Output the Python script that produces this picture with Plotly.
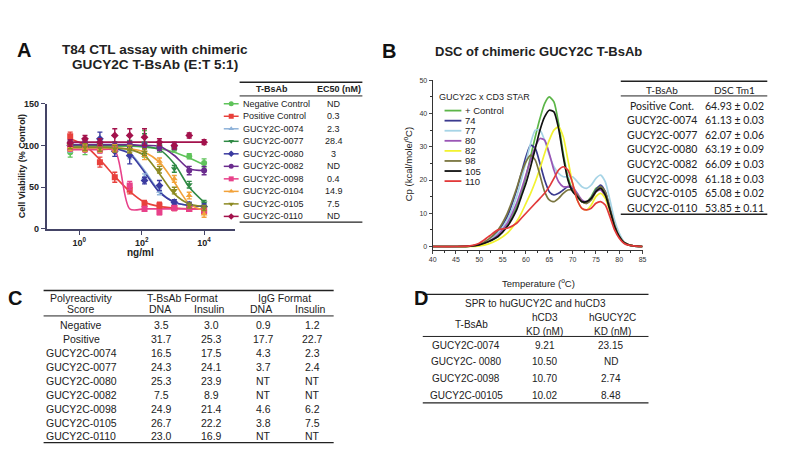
import plotly.graph_objects as go

W, H = 800, 450

# ---------------- Panel A data ----------------
conc = [0.51, 1.52, 4.57, 13.7, 41.2, 123, 370, 1111, 3333, 10000]
a_names = ["Negative Control", "Positive Control", "GUCY2C-0074", "GUCY2C-0077", "GUCY2C-0080",
           "GUCY2C-0082", "GUCY2C-0098", "GUCY2C-0104", "GUCY2C-0105", "GUCY2C-0110"]
a_ec50 = ["ND", "0.3", "2.3", "28.4", "3", "ND", "0.4", "14.9", "7.5", "ND"]

neg_mean = [92, 95, 98, 100, 100, 102, 100, 96, 87, 79]
neg_err = [6, 6, 5, 4, 6, 16, 4, 4, 3, 5]
neg_fit = [99, 99, 99, 99, 99, 98, 96, 92, 85, 77]
pos_mean = [111, 100, 80, 62, 47, 30, 28, 25, 24, 21]
pos_err = [5, 6, 6, 6, 5, 4, 4, 3, 3, 3]
pos_fit = [108, 100, 83, 63, 45, 32, 27, 25, 24, 24]
g74_mean = [96, 97, 95, 96, 88, 62, 45, 32, 28, 27]
g74_err = [4, 4, 4, 4, 4, 4, 4, 3, 3, 3]
g74_fit = [98, 98, 98, 97, 91, 70, 45, 32, 28, 27]
g77_mean = [99, 100, 101, 100, 98, 102, 96, 72, 53, 31]
g77_err = [4, 4, 4, 4, 4, 12, 4, 4, 4, 3]
g77_fit = [100, 100, 100, 100, 100, 99, 95, 78, 50, 32]
g80_mean = [100, 99, 108, 93, 88, 58, 52, 32, 29, 27]
g80_err = [5, 5, 8, 6, 10, 4, 6, 3, 3, 3]
g80_fit = [97, 97, 97, 96, 90, 68, 44, 32, 28, 27]
g82_mean = [103, 102, 101, 100, 101, 100, 98, 99, 70, 70]
g82_err = [4, 4, 4, 4, 4, 4, 4, 4, 5, 5]
g82_fit = [101, 101, 101, 101, 101, 100, 99, 88, 72, 70]
g98_mean = [97, 96, 95, 96, 52, 24, 20, 25, 24, 22]
g98_err = [4, 4, 4, 4, 5, 3, 3, 3, 3, 3]
g98_fit = [95, 95, 95, 94, 24, 24, 24, 24, 24, 24]
g104_mean = [98, 97, 96, 97, 96, 88, 81, 60, 40, 18]
g104_err = [4, 4, 4, 4, 4, 5, 4, 4, 4, 4]
g104_fit = [97, 97, 97, 97, 96, 92, 80, 56, 30, 22]
g105_mean = [100, 98, 97, 96, 95, 92, 71, 46, 28, 25]
g105_err = [4, 4, 4, 4, 4, 4, 4, 4, 3, 3]
g105_fit = [98, 98, 98, 97, 95, 88, 66, 42, 30, 27]
g110_mean = [103, 108, 104, 112, 112, 110, 104, 100, 112, 104]
g110_err = [4, 4, 4, 8, 8, 10, 4, 4, 3, 3]
g110_fit = [104, 104, 104, 104, 104, 104, 104, 104, 104, 104]

a_means = [neg_mean, pos_mean, g74_mean, g77_mean, g80_mean, g82_mean, g98_mean, g104_mean, g105_mean, g110_mean]
a_errs = [neg_err, pos_err, g74_err, g77_err, g80_err, g82_err, g98_err, g104_err, g105_err, g110_err]
a_fits = [neg_fit, pos_fit, g74_fit, g77_fit, g80_fit, g82_fit, g98_fit, g104_fit, g105_fit, g110_fit]

# ---------------- Panel B data ----------------
temp = [40, 45, 48, 50, 52, 54, 56, 58, 59, 60, 61, 62, 63, 64, 65, 66, 67, 68, 69, 70,
        71, 72, 73, 74, 75, 76, 77, 78, 79, 80, 81, 82, 83, 85]
cp_ctrl = [0, 0, 0.1, 0.5, 1.5, 3, 6.5, 12, 16, 21, 27, 33, 38.5, 43, 45, 43.5, 37, 28, 21, 17,
           15, 13.5, 13.5, 15, 17.5, 18, 16, 11, 6, 3, 1.2, 0.5, 0.2, 0]
cp_74 = [0, 0, 0.1, 0.5, 2, 4.5, 9, 17, 22, 27, 30.5, 29.5, 25, 20, 16.5, 15.5, 16, 17, 18, 17.5,
         15.5, 13.5, 13, 14.5, 17, 18.5, 16.5, 11.5, 6.5, 3, 1.2, 0.5, 0.2, 0]
cp_77 = [0, 0, 0.1, 0.5, 1.8, 4, 8, 15, 20, 25.5, 31, 35, 35, 32, 27.5, 24, 22, 21, 21, 21,
         19.5, 18, 17.5, 18.5, 20.5, 21.5, 19.5, 14, 8, 4, 1.5, 0.5, 0.2, 0]
cp_80 = [0, 0, 0.1, 0.5, 1.5, 3.5, 7, 13, 17, 21.5, 26, 30, 32.5, 32, 28, 23, 19.5, 18, 18, 18,
         16, 14, 13.5, 14.5, 16.5, 17, 15, 11, 6, 3, 1.2, 0.5, 0.2, 0]
cp_82 = [0, 0, 0, 0.2, 0.8, 2, 4, 7.5, 10, 13, 16, 19.5, 23.5, 28, 32, 35, 36, 33, 26, 19,
         14, 11.5, 11, 12.5, 15, 16, 14.5, 10.5, 6, 3, 1.2, 0.5, 0.2, 0]
cp_98 = [0, 0, 0.1, 0.6, 2.2, 5, 10, 17.5, 22, 25.5, 27.5, 26, 21.5, 16.5, 14, 13.5, 14.5, 16, 17, 17,
         15.5, 13.5, 13, 14, 16.5, 18, 16.5, 11.5, 6.5, 3, 1.2, 0.5, 0.2, 0]
cp_105 = [0, 0, 0.1, 0.5, 1.5, 3, 6, 11, 15, 19, 24, 29.5, 35, 39, 41, 40.5, 35.5, 27, 20, 16.5,
          15, 13.5, 13.5, 14.5, 16.5, 17.5, 15.5, 11, 6, 3, 1.2, 0.5, 0.2, 0]
cp_110 = [0, 0, 0.2, 1, 3, 5, 5.5, 7, 8.5, 10, 11.5, 13, 14.5, 16, 18, 20.5, 23, 24, 23, 19,
          14, 11.5, 11, 11.5, 13, 13.5, 12.5, 9, 5, 2.5, 1, 0.4, 0.2, 0]
b_labels = ["+ Control", "74", "77", "80", "82", "98", "105", "110"]
b_curves = [cp_ctrl, cp_74, cp_77, cp_80, cp_82, cp_98, cp_105, cp_110]

b_tab_names = ["Positive Cont.", "GUCY2C-0074", "GUCY2C-0077", "GUCY2C-0080",
               "GUCY2C-0082", "GUCY2C-0098", "GUCY2C-0105", "GUCY2C-0110"]
b_tab_tm = ["64.93 ± 0.02", "61.13 ± 0.03", "62.07 ± 0.06", "63.19 ± 0.09",
            "66.09 ± 0.03", "61.18 ± 0.03", "65.08 ± 0.02", "53.85 ± 0.11"]

# ---------------- Panel C data ----------------
c_names = ["Negative", "Positive", "GUCY2C-0074", "GUCY2C-0077", "GUCY2C-0080",
           "GUCY2C-0082", "GUCY2C-0098", "GUCY2C-0105", "GUCY2C-0110"]
c_bsab_dna = ["3.5", "31.7", "16.5", "24.3", "25.3", "7.5", "24.9", "26.7", "23.0"]
c_bsab_ins = ["3.0", "25.3", "17.5", "24.1", "23.9", "8.9", "21.4", "22.2", "16.9"]
c_igg_dna = ["0.9", "17.7", "4.3", "3.7", "NT", "NT", "4.6", "3.8", "NT"]
c_igg_ins = ["1.2", "22.7", "2.3", "2.4", "NT", "NT", "6.2", "7.5", "NT"]

# ---------------- Panel D data ----------------
d_names = ["GUCY2C-0074", "GUCY2C- 0080", "GUCY2C-0098", "GUCY2C-00105"]
d_cd3 = ["9.21", "10.50", "10.70", "10.02"]
d_gucy = ["23.15", "ND", "2.74", "8.48"]

# ---------------- styles ----------------
a_colors = ["#5fc35a", "#e8413c", "#8fb2d9", "#2f8a45", "#3b3ba0",
            "#6b2c8e", "#e8418a", "#f2a23a", "#8c8a22", "#a3124c"]
a_symbols = ["circle", "square", "triangle-up", "triangle-down", "diamond",
             "circle", "square", "triangle-up", "triangle-down", "diamond"]
b_colors = ["#5cb548", "#3b3a8f", "#a6d4e6", "#9a55b5", "#f2f230", "#7a7540", "#111111", "#e23a3a"]

SANS = "Liberation Sans"

def xp(x):
    return x / W

def yp(y):
    return 1 - y / H

fig = go.Figure()

# Panel A curves and points
for i in range(len(a_names)):
    fig.add_trace(go.Scatter(x=conc, y=a_fits[i], mode="lines", line=dict(color=a_colors[i], width=1.6, shape="spline", smoothing=0.8),
                             xaxis="x", yaxis="y", showlegend=False, hoverinfo="skip"))
for i in range(len(a_names)):
    fig.add_trace(go.Scatter(x=conc, y=a_means[i], mode="markers",
                             marker=dict(color=a_colors[i], symbol=a_symbols[i], size=6),
                             error_y=dict(type="data", array=a_errs[i], color=a_colors[i], thickness=1.4, width=2.5),
                             xaxis="x", yaxis="y", showlegend=False, name=a_names[i]))

# Panel B curves
for i in range(len(b_labels)):
    fig.add_trace(go.Scatter(x=temp, y=b_curves[i], mode="lines",
                             line=dict(color=b_colors[i], width=1.7, shape="spline", smoothing=0.6),
                             xaxis="x2", yaxis="y2", showlegend=False, name=b_labels[i]))

# Legend glyph markers for panel A (overlay pixel axis)
leg_rows = [101 + 12.8 * k for k in range(len(a_names))]
fig.add_trace(go.Scatter(x=[229.5] * len(a_names), y=leg_rows, mode="markers",
                         marker=dict(color=a_colors, symbol=a_symbols, size=5),
                         xaxis="x3", yaxis="y3", showlegend=False, hoverinfo="skip"))

shapes = []
ann = []

def text(x, y, s, size=10, bold=False, family=SANS, xanchor="center", color="#222222"):
    ann.append(dict(x=xp(x), y=yp(y), xref="paper", yref="paper", text=s, showarrow=False,
                    xanchor=xanchor, yanchor="middle",
                    font=dict(size=size, family=family, color=color, weight="bold" if bold else "normal")))

def hline(x0, x1, y, w=1.2, color="#222222"):
    shapes.append(dict(type="line", xref="paper", yref="paper", x0=xp(x0), x1=xp(x1), y0=yp(y), y1=yp(y),
                       line=dict(color=color, width=w)))

# Panel letters and titles
text(20, 46, "A", 20, True, xanchor="center", color="#111")
text(153, 46, "T84 CTL assay with chimeric", 13.6, True)
text(153, 61, "GUCY2C T-BsAb (E:T 5:1)", 13.6, True)
text(389, 47, "B", 20, True, color="#111")
text(540, 48, "DSC of chimeric GUCY2C T-BsAb", 13, True)
text(11, 300, "C", 20, True, color="#111")
text(421, 300, "D", 20, True, color="#111")

# Panel A axis titles
text(138, 253, "ng/ml", 10, True)
ann.append(dict(x=xp(11), y=yp(165), xref="paper", yref="paper", text="Cell Viability (% Control)", textangle=-90,
                showarrow=False, font=dict(size=9, family=SANS, color="#222", weight="bold")))

# Panel A table
hline(238, 362, 79, 1.3)
text(271, 86, "T-BsAb", 9, True)
text(338, 86, "EC50 (nM)", 9, True)
hline(238, 362, 93, 1.0)
for k in range(len(a_names)):
    r = leg_rows[k]
    shapes.append(dict(type="line", xref="paper", yref="paper", x0=xp(222), x1=xp(237), y0=yp(r), y1=yp(r),
                       line=dict(color=a_colors[k], width=1.5)))
    text(239, r, a_names[k], 9, xanchor="left")
    text(333, r, a_ec50[k], 9)
hline(238, 362, 222, 1.3)

# Panel B axis titles
text(540, 284, "Temperature (<sup>o</sup>C)", 9.5)
ann.append(dict(x=xp(408), y=yp(163), xref="paper", yref="paper", text="Cp (kcal/mole/<sup>o</sup>C)", textangle=-90,
                showarrow=False, font=dict(size=9.5, family=SANS, color="#222")))

# Panel B legend
text(437, 94, "GUCY2C x CD3 STAR", 9, xanchor="left")
b_rows = [108, 118.3, 128.6, 138.9, 149.2, 159.5, 169.8, 180.1]
for k in range(len(b_labels)):
    shapes.append(dict(type="line", xref="paper", yref="paper", x0=xp(445), x1=xp(462), y0=yp(b_rows[k]), y1=yp(b_rows[k]),
                       line=dict(color=b_colors[k], width=1.8)))
    text(464, b_rows[k], b_labels[k], 9.5, xanchor="left")

# Panel B table
hline(623, 771, 78, 1.3)
text(665, 87, "T-BsAb", 10, family="Lato")
text(738, 87, "DSC Tm1", 10, family="Lato")
hline(623, 771, 93, 1.0)
for k in range(len(b_tab_names)):
    r = 103 + 14.9 * k
    text(665, r, b_tab_names[k], 10.5, family="Lato")
    text(738, r, b_tab_tm[k], 10.5, family="Lato")
hline(623, 771, 214, 1.3)

# Panel C table
hline(40, 333, 292, 1.3)
text(78, 300, "Polyreactivity", 10.5)
text(78, 311, "Score", 10.5)
text(180, 300, "T-BsAb Format", 10.5)
text(283, 300, "IgG Format", 10.5)
text(158, 311, "DNA", 10.5)
text(208, 311, "Insulin", 10.5)
text(260, 311, "DNA", 10.5)
text(310, 311, "Insulin", 10.5)
hline(40, 333, 318, 1.0)
for k in range(len(c_names)):
    r = 327.7 + 14.2 * k
    text(78, r, c_names[k], 10.5)
    text(159, r, c_bsab_dna[k], 10.5)
    text(210, r, c_bsab_ins[k], 10.5)
    text(262, r, c_igg_dna[k], 10.5)
    text(312, r, c_igg_ins[k], 10.5)
hline(40, 333, 447.5, 1.3)

# Panel D table
hline(423, 651, 296, 1.3)
text(537, 305, "SPR to huGUCY2C and huCD3", 10)
text(472, 327, "T-BsAb", 10)
text(546, 320, "hCD3", 10)
text(546, 334, "KD (nM)", 10)
text(615, 320, "hGUCY2C", 10)
text(615, 334, "KD (nM)", 10)
hline(423, 651, 339, 1.0)
for k in range(len(d_names)):
    r = 348 + 17 * k
    text(467, r, d_names[k], 10)
    text(546, r, d_cd3[k], 10)
    text(613, r, d_gucy[k], 10)
hline(423, 651, 407, 1.3)

fig.update_layout(
    width=W, height=H, margin=dict(l=0, r=0, t=0, b=0),
    paper_bgcolor="white", plot_bgcolor="rgba(0,0,0,0)",
    xaxis=dict(domain=[xp(43), xp(233)], type="log", range=[-1.05, 4.98],
               tickvals=[1, 100, 10000], ticktext=["10<sup>0</sup>", "10<sup>2</sup>", "10<sup>4</sup>"],
               ticks="outside", ticklen=4, tickwidth=1.3, tickcolor="#444466",
               showline=True, linecolor="#444466", linewidth=1.6, showgrid=False, zeroline=False,
               tickfont=dict(size=9, family=SANS, color="#222", weight="bold"), anchor="y"),
    yaxis=dict(domain=[yp(229), yp(101)], range=[0, 150], tickvals=[0, 50, 100, 150],
               ticks="outside", ticklen=4, tickwidth=1.3, tickcolor="#444466",
               showline=True, linecolor="#444466", linewidth=1.6, showgrid=False, zeroline=False,
               tickfont=dict(size=9, family=SANS, color="#222", weight="bold"), anchor="x"),
    xaxis2=dict(domain=[xp(433), xp(645)], range=[40, 85], dtick=5, ticks="outside", ticklen=3,
                minor=dict(dtick=2.5, ticks="outside", ticklen=2, tickcolor="#333"),
                showline=True, linecolor="#333", linewidth=1, showgrid=False, zeroline=False,
                tickfont=dict(size=7, family=SANS, color="#333"), anchor="y2"),
    yaxis2=dict(domain=[yp(250.4), yp(77)], range=[-1, 50], dtick=10, ticks="outside", ticklen=3,
                minor=dict(dtick=5, ticks="outside", ticklen=2, tickcolor="#333"),
                showline=True, linecolor="#333", linewidth=1, showgrid=False, zeroline=False,
                tickfont=dict(size=7, family=SANS, color="#333"), anchor="x2"),
    xaxis3=dict(domain=[0, 1], range=[0, W], visible=False, fixedrange=True, anchor="y3"),
    yaxis3=dict(domain=[0, 1], range=[H, 0], visible=False, fixedrange=True, anchor="x3"),
    shapes=shapes, annotations=ann, showlegend=False,
)

fig.write_html("out.html", config={"displayModeBar": False},
               post_script="document.body.style.margin='0';")
